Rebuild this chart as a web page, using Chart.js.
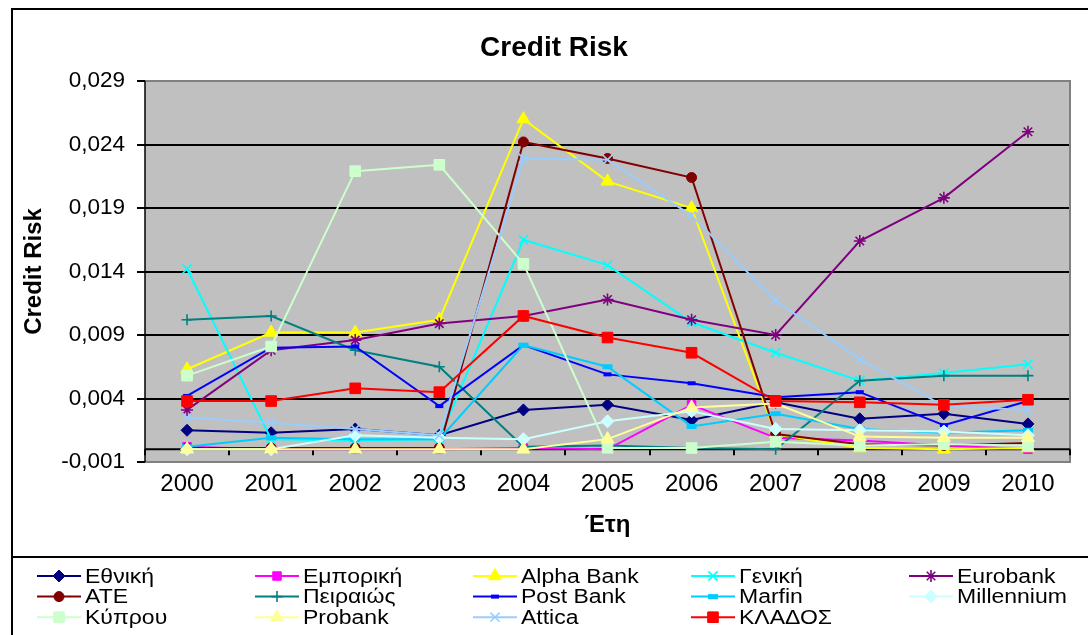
<!DOCTYPE html>
<html>
<head>
<meta charset="utf-8">
<script src="https://cdn.jsdelivr.net/npm/chart.js@4/dist/chart.umd.min.js"></script>
<style>
  html, body { margin: 0; padding: 0; background: #fff; }
  canvas { display: block; }
</style>
</head>
<body>
<canvas id="chart" width="1088" height="635" style="width:1088px;height:635px"></canvas>
<script>
// Years on the category axis
const years = ['2000', '2001', '2002', '2003', '2004', '2005', '2006', '2007', '2008', '2009', '2010'];

// Value-axis tick marks
const yTicks = [-0.001, 0.004, 0.009, 0.014, 0.019, 0.024, 0.029];

// Credit risk per bank and year
const ethniki    = [0.0015, 0.0013, 0.0016, 0.0011, 0.0031, 0.0035, 0.0023, 0.0037, 0.0024, 0.0028, 0.0020];
const emporiki   = [0.0002, 0.0000, 0.0000, 0.0000, 0.0001, 0.0000, 0.0035, 0.0009, 0.0007, 0.0003, 0.0000];
const alphaBank  = [0.0063, 0.0092, 0.0092, 0.0102, 0.0260, 0.0211, 0.0190, 0.0012, 0.0001, 0.0000, 0.0001];
const geniki     = [0.0142, 0.0008, 0.0007, 0.0008, 0.0165, 0.0145, 0.0100, 0.0076, 0.0054, 0.0060, 0.0067];
const eurobank   = [0.0031, 0.0078, 0.0086, 0.0099, 0.0105, 0.0118, 0.0102, 0.0090, 0.0164, 0.0198, 0.0250];
const ate        = [0.0001, 0.0001, 0.0001, 0.0001, 0.0242, 0.0229, 0.0214, 0.0012, 0.0004, 0.0003, 0.0005];
const peiraios   = [0.0102, 0.0105, 0.0078, 0.0065, 0.0002, 0.0003, 0.0001, 0.0000, 0.0054, 0.0058, 0.0058];
const postBank   = [0.0042, 0.0080, 0.0081, 0.0034, 0.0082, 0.0059, 0.0052, 0.0041, 0.0045, 0.0019, 0.0038];
const marfin     = [0.0002, 0.0009, 0.0008, 0.0008, 0.0082, 0.0065, 0.0018, 0.0028, 0.0016, 0.0013, 0.0015];
const millennium = [0.0000, 0.0000, 0.0011, 0.0009, 0.0008, 0.0022, 0.0030, 0.0016, 0.0015, 0.0014, 0.0011];
const kyprou     = [0.0058, 0.0081, 0.0219, 0.0224, 0.0146, 0.0001, 0.0001, 0.0006, 0.0003, 0.0004, 0.0003];
const probank    = [0.0000, 0.0000, 0.0000, 0.0000, 0.0000, 0.0008, 0.0033, 0.0036, 0.0010, 0.0009, 0.0009];
const attica     = [0.0025, 0.0021, 0.0016, 0.0011, 0.0229, 0.0228, 0.0184, 0.0117, 0.0071, 0.0034, 0.0031];
const klados     = [0.0038, 0.0038, 0.0048, 0.0045, 0.0105, 0.0088, 0.0076, 0.0038, 0.0037, 0.0035, 0.0039];

const chartTitle = 'Credit Risk';
const FONT = '"Liberation Sans", Arial, Helvetica, sans-serif';

function series(label, data, color, pointStyle, radius, pointBorderWidth, index) {
  return {
    label, data,
    borderColor: color,
    backgroundColor: color,
    borderWidth: 2,
    pointStyle,
    pointRadius: radius,
    pointHoverRadius: radius,
    pointBackgroundColor: color,
    pointBorderColor: color,
    pointBorderWidth,
    tension: 0,
    order: 100 - index   // later series are painted on top
  };
}

const datasets = [
  series('Εθνική',     ethniki,    '#000080', 'rectRot',  6,   1,   0),
  series('Εμπορική',   emporiki,   '#FF00FF', 'rect',     6,   1,   1),
  series('Alpha Bank', alphaBank,  '#FFFF00', 'triangle', 7.5, 1,   2),
  series('Γενική',     geniki,     '#00FFFF', 'crossRot', 6.5, 1.6, 3),
  series('Eurobank',   eurobank,   '#800080', 'star',     6,   1.6, 4),
  series('ATE',        ate,        '#800000', 'circle',   5,   1,   5),
  series('Πειραιώς',   peiraios,   '#008080', 'cross',    5.5, 1.6, 6),
  series('Post Bank',  postBank,   '#0000FF', 'line',     4,   4,   7),
  series('Marfin',     marfin,     '#00CCFF', 'line',     5,   5,   8),
  series('Millennium', millennium, '#CCFFFF', 'rectRot',  6.5, 1,   9),
  series('Κύπρου',     kyprou,     '#CCFFCC', 'rect',     7.5, 1,  10),
  series('Probank',    probank,    '#FFFF99', 'triangle', 7.5, 1,  11),
  series('Attica',     attica,     '#99CCFF', 'crossRot', 6.5, 1.6, 12),
  series('ΚΛΑΔΟΣ',     klados,     '#FF0000', 'rect',     7.5, 1,  13)
];

// Grey plot background, outer frame, legend box and heading
const framePlugin = {
  id: 'frame',
  beforeDraw(chart) {
    const { ctx, chartArea: a, width, height } = chart;
    ctx.save();
    ctx.fillStyle = '#FFFFFF';
    ctx.fillRect(0, 0, width, height);
    ctx.fillStyle = '#C0C0C0';
    ctx.fillRect(a.left, a.top, a.right - a.left, a.bottom - a.top);
    ctx.strokeStyle = '#000000';
    ctx.lineWidth = 2;
    ctx.beginPath();
    ctx.moveTo(width, 9); ctx.lineTo(12, 9); ctx.lineTo(12, height);
    ctx.moveTo(12, 557); ctx.lineTo(width, 557);
    ctx.stroke();
    // heading
    ctx.fillStyle = '#000000';
    ctx.font = 'bold 28px ' + FONT;
    ctx.textAlign = 'center';
    ctx.textBaseline = 'middle';
    ctx.fillText(chartTitle, 554, 48);
    ctx.restore();
  },
  beforeDatasetsDraw(chart) {
    const { ctx, chartArea: a, scales } = chart;
    const xs = scales.x, ys = scales.y;
    ctx.save();
    // plot area border
    ctx.strokeStyle = '#808080';
    ctx.lineWidth = 2;
    ctx.beginPath();
    ctx.moveTo(a.left, a.top); ctx.lineTo(a.right, a.top);
    ctx.lineTo(a.right, a.bottom); ctx.lineTo(a.left, a.bottom);
    ctx.stroke();
    // category axis crossing at zero
    const y0 = ys.getPixelForValue(0);
    ctx.strokeStyle = '#000000';
    ctx.lineWidth = 2;
    ctx.beginPath();
    ctx.moveTo(a.left, y0); ctx.lineTo(a.right, y0);
    for (let k = 0; k <= years.length; k++) {
      const x = Math.round(xs.getPixelForValue(k - 0.5));
      ctx.moveTo(x, y0); ctx.lineTo(x, y0 + 6);
    }
    ctx.stroke();
    // value axis line
    ctx.lineWidth = 1.5;
    ctx.beginPath();
    ctx.moveTo(a.left, a.top); ctx.lineTo(a.left, a.bottom);
    ctx.stroke();
    ctx.restore();
  }
};

// Five-column legend below the plot
const legendPlugin = {
  id: 'gridLegend',
  afterDraw(chart) {
    const { ctx } = chart;
    const helpers = Chart.helpers || {};
    ctx.save();
    chart.data.datasets.forEach((ds, i) => {
      const col = i % 5, row = Math.floor(i / 5);
      const tx = 85 + col * 218;
      const ty = 576 + row * 20.6;
      ctx.strokeStyle = ds.borderColor;
      ctx.lineWidth = 2;
      ctx.beginPath();
      ctx.moveTo(tx - 48, ty); ctx.lineTo(tx - 4, ty);
      ctx.stroke();
      if (helpers.drawPoint) {
        ctx.fillStyle = ds.pointBackgroundColor;
        ctx.strokeStyle = ds.pointBorderColor;
        ctx.lineWidth = ds.pointBorderWidth;
        helpers.drawPoint(ctx, { pointStyle: ds.pointStyle, radius: ds.pointRadius, rotation: 0, borderWidth: ds.pointBorderWidth }, tx - 26, ty);
      }
      ctx.fillStyle = '#000000';
      ctx.font = '20px ' + FONT;
      ctx.textAlign = 'left';
      ctx.textBaseline = 'middle';
      ctx.translate(tx, ty + 1);
      ctx.scale(1.15, 1);
      ctx.fillText(ds.label, 0, 0);
      ctx.setTransform(1, 0, 0, 1, 0, 0);
    });
    ctx.restore();
  }
};

const fmt = v => v.toFixed(3).replace('.', ',');

new Chart(document.getElementById('chart'), {
  type: 'line',
  data: { labels: years, datasets },
  options: {
    responsive: false,
    animation: false,
    devicePixelRatio: 1,
    layout: { padding: { left: 12, right: 18, top: 81, bottom: 78 } },
    plugins: {
      legend: { display: false },
      tooltip: { enabled: false },
      title: { display: false }
    },
    scales: {
      x: {
        type: 'category',
        offset: true,
        grid: { display: false, drawTicks: false },
        border: { display: false },
        ticks: { color: '#000', font: { family: FONT, size: 24 }, padding: 8, autoSkip: false, maxRotation: 0 },
        title: {
          display: true, text: 'Έτη', color: '#000',
          font: { family: FONT, size: 24, weight: 'bold' },
          padding: { top: 0, bottom: 17.6 }
        },
        afterFit(scale) { scale.height = 95; }
      },
      y: {
        type: 'linear',
        min: yTicks[0],
        max: yTicks[yTicks.length - 1],
        afterBuildTicks(scale) { scale.ticks = yTicks.map(v => ({ value: v })); },
        grid: {
          color: c => (c.tick && (c.tick.value === yTicks[0] || c.tick.value === yTicks[yTicks.length - 1])) ? 'rgba(0,0,0,0)' : '#000000',
          tickColor: '#000000',
          lineWidth: 2,
          tickLength: 8
        },
        border: { display: false },
        ticks: { color: '#000', font: { family: FONT, size: 22.5 }, padding: 12, callback: v => fmt(v) },
        title: {
          display: true, text: 'Credit Risk', color: '#000',
          font: { family: FONT, size: 24, weight: 'bold' },
          padding: { top: 7.6, bottom: 0 }
        },
        afterFit(scale) { scale.width = 133; }
      }
    }
  },
  plugins: [framePlugin, legendPlugin]
});
</script>
</body>
</html>
